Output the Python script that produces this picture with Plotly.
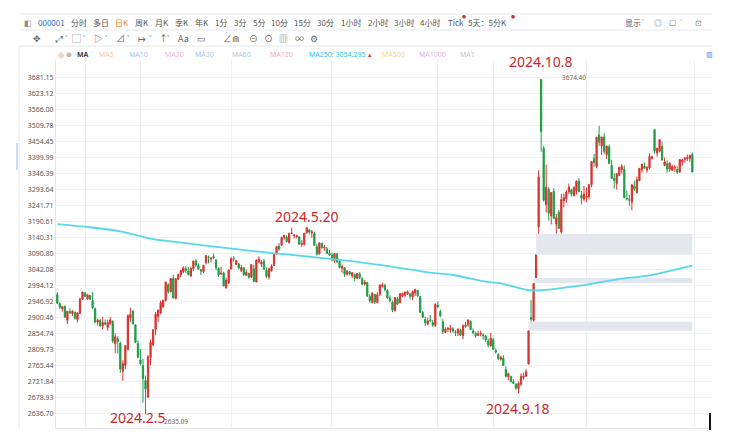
import numpy as np
import plotly.graph_objects as go

# trading sessions shown (Shanghai Composite, daily)
sessions = {
    "2023-12": [15, 18, 19, 20, 21, 22, 25, 26, 27, 28, 29],
    "2024-01": [2, 3, 4, 5, 8, 9, 10, 11, 12, 15, 16, 17, 18, 19, 22, 23, 24, 25, 26, 29, 30, 31],
    "2024-02": [1, 2, 5, 6, 7, 8, 19, 20, 21, 22, 23, 26, 27, 28, 29],
    "2024-03": [1, 4, 5, 6, 7, 8, 11, 12, 13, 14, 15, 18, 19, 20, 21, 22, 25, 26, 27, 28, 29],
    "2024-04": [1, 2, 3, 8, 9, 10, 11, 12, 15, 16, 17, 18, 19, 22, 23, 24, 25, 26, 29, 30],
    "2024-05": [6, 7, 8, 9, 10, 13, 14, 15, 16, 17, 20, 21, 22, 23, 24, 27, 28, 29, 30, 31],
    "2024-06": [3, 4, 5, 6, 7, 11, 12, 13, 14, 17, 18, 19, 20, 21, 24, 25, 26, 27, 28],
    "2024-07": [1, 2, 3, 4, 5, 8, 9, 10, 11, 12, 15, 16, 17, 18, 19, 22, 23, 24, 25, 26, 29, 30, 31],
    "2024-08": [1, 2, 5, 6, 7, 8, 9, 12, 13, 14, 15, 16, 19, 20, 21, 22, 23, 26, 27, 28, 29, 30],
    "2024-09": [2, 3, 4, 5, 6, 9, 10, 11, 12, 13, 18, 19, 20, 23, 24, 25, 26, 27, 30],
    "2024-10": [8, 9, 10, 11, 14, 15, 16, 17, 18, 21, 22, 23, 24, 25, 28, 29, 30, 31],
    "2024-11": [1, 4, 5, 6, 7, 8, 11, 12, 13, 14, 15, 18, 19, 20, 21, 22, 25, 26, 27, 28, 29],
    "2024-12": [2, 3, 4, 5, 6, 9, 10, 11, 12, 13, 16, 17, 18, 19, 20, 23, 24, 25, 26, 27, 30, 31],
}
dates = [f"{m}-{d:02d}" for m, days in sessions.items() for d in days]

opens = [
    2968, 2941, 2926, 2933, 2893, 2919, 2912, 2917, 2895, 2913, 2954,
    2972, 2955, 2965, 2950, 2926, 2888, 2892, 2877, 2886, 2872, 2883, 2891, 2826, 2840, 2828, 2750, 2766, 2810, 2900, 2919, 2880, 2827,
    2781, 2765, 2725, 2680, 2788, 2823, 2866, 2904, 2914, 2932, 2950, 2997, 2976, 3016, 2956,
    3013, 3026, 3036, 3045, 3038, 3023, 3045, 3068, 3055, 3042, 3036, 3063, 3080, 3074, 3082, 3071, 3046, 3029, 3032, 2988, 3003,
    3044, 3075, 3058, 3059, 3040, 3048, 3025, 3031, 3020, 3045, 3005, 3066, 3059, 3068, 3040, 3020, 3039, 3055, 3090, 3114,
    3117, 3141, 3142, 3125, 3154, 3146, 3144, 3143, 3119, 3120, 3156, 3165, 3155, 3154, 3112, 3090, 3122, 3108, 3105, 3092,
    3087, 3068, 3090, 3067, 3046, 3048, 3028, 3036, 3024, 3028, 3017, 3029, 3015, 2999, 3003, 2962, 2944, 2968, 2944,
    2969, 2992, 2995, 2980, 2958, 2945, 2921, 2956, 2944, 2963, 2966, 2970, 2970, 2960, 2972, 2980, 2962, 2915, 2895, 2882, 2894, 2886, 2878,
    2937, 2918, 2889, 2858, 2867, 2866, 2869, 2860, 2856, 2865, 2849, 2875, 2880, 2890, 2862, 2856, 2850, 2854, 2852, 2848, 2834, 2820,
    2838, 2807, 2796, 2783, 2786, 2755, 2735, 2736, 2722, 2715, 2703, 2715, 2733, 2737, 2770, 2901, 2893, 3017, 3174,
    3674.40, 3433, 3245, 3295, 3209, 3288, 3183, 3221, 3158, 3257, 3264, 3287, 3293, 3274, 3290, 3322, 3276, 3263,
    3268, 3270, 3310, 3397, 3370, 3478, 3440, 3471, 3410, 3437, 3374, 3331, 3314, 3341, 3360, 3361, 3265, 3261, 3253, 3306, 3284,
    3323, 3359, 3371, 3358, 3365, 3398, 3496, 3416, 3422, 3438, 3374, 3380, 3361, 3358, 3366, 3360, 3352, 3386, 3394, 3397, 3397, 3411,
]
highs = [
    2975, 2945, 2934, 2936, 2920, 2928, 2922, 2917, 2915, 2959, 2976,
    2976, 2970, 2966, 2975, 2930, 2898, 2898, 2903, 2895, 2895, 2903, 2891, 2856, 2848, 2832, 2780, 2822, 2910, 2929, 2922, 2880, 2836,
    2812, 2784, 2738, 2795, 2838, 2866, 2917, 2923, 2950, 2952, 3006, 3001, 3016, 3027, 3016,
    3030, 3041, 3052, 3053, 3050, 3051, 3069, 3074, 3061, 3044, 3057, 3085, 3085, 3080, 3091, 3074, 3049, 3051, 3036, 3018, 3043,
    3078, 3084, 3072, 3063, 3057, 3050, 3042, 3033, 3058, 3057, 3072, 3083, 3072, 3075, 3049, 3048, 3058, 3094, 3114, 3123,
    3144, 3149, 3147, 3155, 3172, 3152, 3150, 3145, 3133, 3155, 3174.27, 3167, 3164, 3159, 3121, 3125, 3126, 3118, 3112, 3102,
    3094, 3093, 3093, 3073, 3058, 3050, 3041, 3038, 3035, 3030, 3031, 3035, 3019, 3011, 3006, 2969, 2973, 2970, 2975,
    2999, 3003, 3000, 2984, 2965, 2950, 2960, 2961, 2972, 2973, 2978, 2980, 2971, 2980, 2985, 2981, 2963, 2920, 2903, 2900, 2908, 2894, 2942,
    2947, 2923, 2896, 2873, 2874, 2880, 2873, 2865, 2870, 2869, 2881, 2889, 2895, 2893, 2870, 2860, 2863, 2863, 2855, 2852, 2840, 2857,
    2843, 2814, 2800, 2793, 2795, 2764, 2746, 2738, 2729, 2717, 2722, 2744, 2746, 2756, 2863, 2952, 3001, 3087.6, 3358,
    3674.40, 3440, 3377, 3302, 3285, 3299, 3215, 3228, 3280, 3281, 3292, 3314, 3297, 3306, 3323, 3331, 3290, 3306,
    3301, 3312, 3387, 3413, 3471, 3509.4, 3471, 3484, 3441, 3445, 3393, 3348, 3348, 3368, 3379, 3374, 3291, 3276, 3310, 3323, 3337,
    3364, 3379, 3384, 3369, 3415, 3406, 3498, 3432, 3462, 3455, 3400, 3391, 3384, 3377, 3375, 3371, 3394, 3397, 3402, 3411, 3411, 3418,
]
lows = [
    2940, 2925, 2918, 2900, 2882, 2911, 2905, 2895, 2887, 2911, 2952,
    2961, 2952, 2952, 2926, 2885, 2877, 2873, 2867, 2878, 2863, 2880, 2828, 2800, 2799, 2745, 2724, 2756, 2808, 2888, 2880, 2829, 2786,
    2766, 2666, 2635.09, 2680, 2767, 2820, 2850, 2888, 2910, 2928, 2948, 2970, 2974, 2956, 2954,
    3011, 3019, 3031, 3032, 3025, 3021, 3038, 3050, 3042, 3026, 3032, 3058, 3061, 3065, 3074, 3040, 3020, 3027, 2992, 2985, 2999,
    3043, 3067, 3057, 3043, 3035, 3022, 3024, 3015, 3017, 3005, 3005, 3062, 3050, 3041, 3017, 3012, 3036, 3053, 3087, 3100,
    3115, 3135, 3126, 3122, 3152, 3138, 3138, 3118, 3111, 3115, 3152, 3150, 3140, 3115, 3085, 3088, 3106, 3100, 3090, 3084,
    3067, 3063, 3063, 3046, 3033, 3020, 3024, 3025, 3016, 3007, 3013, 3014, 2996, 2994, 2962, 2944, 2942, 2940, 2943,
    2963, 2989, 2977, 2955, 2945, 2916, 2918, 2937, 2942, 2960, 2960, 2966, 2954, 2951, 2963, 2961, 2915, 2900, 2877, 2879, 2887, 2873, 2874,
    2928, 2903, 2854, 2856, 2859, 2857, 2857, 2848, 2848, 2848, 2839, 2872, 2874, 2865, 2855, 2843, 2848, 2847, 2838, 2831, 2816, 2819,
    2808, 2799, 2780, 2779, 2765, 2733, 2725, 2720, 2715, 2700, 2689.70, 2710, 2727, 2734, 2769, 2889, 2889, 3017, 3152,
    3420, 3255, 3220, 3194, 3182, 3199, 3153, 3168, 3152.5, 3236, 3251, 3279, 3271, 3272, 3278, 3286, 3246, 3256,
    3253, 3262, 3302, 3369, 3364, 3440, 3409, 3412, 3396, 3379, 3330, 3297, 3294, 3338, 3347, 3266, 3258, 3241, 3227, 3290, 3281,
    3323, 3350, 3362, 3350, 3360, 3393, 3413, 3403, 3418, 3390, 3371, 3349, 3353, 3355, 3353, 3345, 3349, 3372, 3383, 3388, 3386, 3352,
]
closes = [
    2942.56, 2930.80, 2932.39, 2902.11, 2918.72, 2914.78, 2918.81, 2898.87, 2914.61, 2954.70, 2974.93,
    2962.28, 2967.25, 2954.35, 2929.18, 2887.54, 2893.25, 2877.70, 2886.65, 2881.98, 2886.18, 2893.99, 2833.62, 2845.78, 2832.28,
    2756.34, 2770.74, 2820.77, 2906.11, 2910.22, 2883.36, 2830.53, 2788.55,
    2770.74, 2730.15, 2702.19, 2789.49, 2829.70, 2865.90, 2910.54, 2922.73, 2944.02, 2950.96, 3004.88, 2977.02, 3015.48, 2957.85, 3015.17,
    3027.02, 3039.31, 3047.79, 3039.93, 3027.40, 3046.02, 3068.46, 3055.94, 3043.83, 3038.23, 3054.64, 3084.93, 3079.69, 3077.11,
    3077.38, 3048.03, 3026.31, 3031.48, 2993.14, 3010.66, 3041.17,
    3077.38, 3074.96, 3069.30, 3047.05, 3048.54, 3027.34, 3034.25, 3019.47, 3057.38, 3007.07, 3071.38, 3074.23, 3065.26, 3044.60,
    3021.98, 3044.82, 3052.90, 3088.64, 3113.04, 3104.82,
    3140.72, 3147.74, 3128.48, 3154.32, 3154.55, 3148.02, 3145.77, 3119.90, 3122.40, 3154.03, 3171.15, 3157.97, 3158.54, 3116.39,
    3088.87, 3124.04, 3109.57, 3111.02, 3091.68, 3086.81,
    3078.49, 3091.20, 3065.40, 3048.79, 3051.28, 3028.05, 3037.47, 3028.92, 3032.63, 3015.89, 3030.25, 3018.05, 2998.14, 3004.96,
    2963.10, 2950.00, 2972.53, 2945.85, 2967.40,
    2994.73, 2997.01, 2982.38, 2957.57, 2949.93, 2922.45, 2959.37, 2939.36, 2970.39, 2971.30, 2974.01, 2976.30, 2962.85, 2977.13,
    2982.31, 2964.22, 2915.37, 2901.95, 2886.74, 2890.90, 2891.85, 2879.30, 2938.75,
    2932.39, 2905.34, 2860.70, 2867.28, 2869.90, 2869.83, 2862.19, 2858.20, 2867.95, 2850.65, 2877.36, 2879.43, 2893.67, 2866.66,
    2856.58, 2848.77, 2854.37, 2855.52, 2848.73, 2837.43, 2823.11, 2842.21,
    2811.04, 2802.98, 2784.28, 2788.31, 2765.81, 2736.49, 2744.19, 2721.80, 2717.12, 2704.09, 2717.28, 2736.02, 2736.81, 2748.92,
    2863.13, 2896.31, 3000.95, 3087.53, 3336.50,
    3489.78, 3258.86, 3301.93, 3217.74, 3284.32, 3201.29, 3202.95, 3169.38, 3261.56, 3268.11, 3285.87, 3302.80, 3280.26, 3299.70,
    3322.20, 3286.41, 3266.24, 3279.82,
    3272.01, 3310.21, 3386.99, 3383.81, 3470.07, 3452.30, 3470.66, 3421.97, 3439.28, 3379.84, 3330.73, 3323.85, 3346.01, 3367.99,
    3370.40, 3267.19, 3263.76, 3259.76, 3309.78, 3295.70, 3326.46,
    3363.98, 3378.81, 3364.65, 3368.86, 3404.08, 3402.53, 3422.66, 3432.49, 3461.50, 3391.88, 3386.33, 3361.49, 3382.21, 3370.03,
    3368.07, 3351.26, 3393.53, 3393.35, 3398.08, 3400.14, 3407.33, 3351.76,
]

# MA250
ma_dates = ["2023-12-15", "2024-01-04", "2024-01-22", "2024-02-07", "2024-03-05", "2024-03-22", "2024-04-12",
            "2024-04-26", "2024-05-15", "2024-06-03", "2024-06-18", "2024-07-05", "2024-07-29", "2024-08-09",
            "2024-08-29", "2024-09-05", "2024-09-25", "2024-10-31", "2024-11-19", "2024-12-06", "2024-12-31"]
ma_vals = [3183, 3173, 3160, 3137, 3124, 3112, 3100, 3092, 3085, 3074, 3066, 3052, 3033, 3026,
           3005, 3001, 2980, 2996, 3013, 3025, 3054.295]

# open gaps: candle before the gap
gap_dates = ["2024-09-24", "2024-09-26", "2024-09-27"]

# y axis labels (log scale)
y_ticks = [3681.15, 3623.12, 3566.00, 3509.78, 3454.45, 3399.99, 3346.39, 3293.64, 3241.71, 3190.61, 3140.31,
           3090.80, 3042.08, 2994.12, 2946.92, 2900.46, 2854.74, 2809.73, 2765.44, 2721.84, 2678.93, 2636.70]
# vertical grid at these sessions
grid_dates = ["2024-01-02", "2024-02-01", "2024-04-01", "2024-06-03", "2024-08-01", "2024-09-02", "2024-11-01"]

# marked extremes: (date, price)
marks = [("2024-02-05", 2635.09), ("2024-05-20", 3174.27), ("2024-09-18", 2689.70), ("2024-10-08", 3674.40)]

RED = "#d8332e"
GREEN = "#1f9d45"
GRID = "#edf0f4"
TXT = "#555555"
CJK = "Noto Sans CJK SC, Noto Sans, sans-serif"
LAT = "Noto Sans, sans-serif"

n = len(dates)
idx = np.arange(n)

fig = go.Figure()

for gd in gap_dates:
    i = dates.index(gd)
    lo, hi = highs[i], lows[i + 1]
    fig.add_trace(go.Scatter(x=[i, n - 1, n - 1, i, i], y=[lo, lo, hi, hi, lo], mode="lines",
                             fill="toself", fillcolor="#e4e7ed", line=dict(width=0),
                             hoverinfo="skip", showlegend=False))

fig.add_trace(go.Candlestick(x=idx, open=opens, high=highs, low=lows, close=closes, hovertext=dates,
                             increasing=dict(line=dict(color=RED, width=1), fillcolor=RED),
                             decreasing=dict(line=dict(color=GREEN, width=1), fillcolor=GREEN),
                             showlegend=False))

ma_x = [dates.index(d) for d in ma_dates]
fig.add_trace(go.Scatter(x=ma_x, y=ma_vals, mode="lines",
                         line=dict(color="#55d8ea", width=1.8, shape="spline", smoothing=0.8),
                         hoverinfo="skip", showlegend=False))

grid_pos = [dates.index(d) for d in grid_dates] + [n]  # last one = next session 2025-01-02

# date labels on the extremes
ann = []
lab_off = {"2024-02-05": (-7.5, -3.3), "2024-05-20": (0, 10), "2024-09-18": (0, -14.7), "2024-10-08": (0, 18)}
for d, p in marks:
    i = dates.index(d)
    y, m, dd = d.split("-")
    dx, dy = lab_off[d]
    ann.append(dict(x=i, y=np.log10(p), xref="x", yref="y", text=f"{int(y)}.{int(m)}.{int(dd)}",
                    showarrow=False, xshift=dx, yshift=dy, xanchor="center", yanchor="middle",
                    font=dict(family=LAT, size=14, color="#c8282b")))
for d, p, dx, dy in [("2024-02-05", 2635.09, 30, -6.8), ("2024-10-08", 3674.40, 33, 2.5)]:
    ann.append(dict(x=dates.index(d), y=np.log10(p), xref="x", yref="y", text=f"{p:.2f}",
                    showarrow=False, xshift=dx, yshift=dy, xanchor="center", yanchor="middle",
                    font=dict(family=LAT, size=6.5, color="#666")))


# page pixels -> paper coords (plot area spans x 56..712, y 60..428 on the page)
def px(x):
    return (x - 56) / 656


def py(y):
    return (428 - y) / 368


def tool(text, x, y, color=TXT, size=8, family=CJK):
    ann.append(dict(x=px(x), y=py(y), xref="paper", yref="paper", text=text, showarrow=False,
                    xanchor="left", yanchor="middle", font=dict(family=family, size=size, color=color)))


# toolbar row 1
row1 = [("◧", 22, "#8a8a8a"), ("000001", 36, "#2f6db5"), ("分时", 69, TXT), ("多日", 91, TXT), ("日K", 113, "#e8801e"),
        ("周K", 133, TXT), ("月K", 153, TXT), ("季K", 173, TXT), ("年K", 193, TXT), ("1分", 213, TXT), ("3分", 232, TXT),
        ("5分", 251, TXT), ("10分", 269, TXT), ("15分", 292, TXT), ("30分", 315, TXT), ("1小时", 339, TXT),
        ("2小时", 366, TXT), ("3小时", 392, TXT), ("4小时", 418, TXT), ("Tick", 446, TXT), ("5天：5分K", 466, TXT),
        ("˅", 507, "#999"), ("显示", 623, TXT), ("˅", 640, "#999"), ("◎", 652, "#888"), ("☐", 667, "#777"),
        ("˅", 678, "#999"), ("⊡", 693, "#888")]
for t, x, c in row1:
    tool(t, x, 22, c, 8)
for x in [462, 511]:
    tool("●", x - 2, 16.5, "#c0392b", 4)

# toolbar row 2 (drawing tools)
row2 = [("✥", 31), ("⤢", 53), ("˅", 63), ("▢", 70), ("˅", 81), ("▷", 92), ("˅", 103), ("⊿", 114), ("˅", 125),
        ("↦", 136), ("˅", 147), ("↑", 157), ("˅", 165), ("Aa", 176), ("▭", 195), ("∠", 221), ("⋒", 230),
        ("⊖", 247), ("⊙", 262), ("▥", 277), ("∞", 293), ("⚙", 308)]
for t, x in row2:
    tool(t, x, 38, "#666", 9)

# MA row
row3 = [("◎", 56, "#888"), ("⊗", 64, "#888"), ("<b>MA</b>", 75, "#444"), ("˅", 89, "#999"), ("MA5", 97, "#f5c597"),
        ("MA10", 127, "#a3c4ea"), ("MA20", 163, "#f0b0d6"), ("MA30", 193, "#a7c4e8"), ("MA60", 230, "#b9c7d9"),
        ("MA120", 268, "#f2a7c8"), (f"MA250: {ma_vals[-1]}", 307, "#26c3d8"), ("▴", 366, "#d63b3b"),
        ("MA500", 380, "#f4d58c"), ("MA1000", 417, "#d6b5e5"), ("MA1", 458, "#c4c4c4"), ("▥", 704, "#3b7dd8")]
for t, x, c in row3:
    tool(t, x, 54, c, 7, LAT)

shapes = []
for yy in [14, 30, 46]:
    shapes.append(dict(type="line", xref="paper", yref="paper", x0=px(20), x1=px(712), y0=py(yy), y1=py(yy),
                       line=dict(color="#e6e8eb", width=1)))
shapes.append(dict(type="line", xref="paper", yref="paper", x0=px(19), x1=px(19), y0=py(46), y1=py(430),
                   line=dict(color="#e6e8eb", width=1)))
shapes.append(dict(type="line", xref="paper", yref="paper", x0=px(17), x1=px(17), y0=py(143), y1=py(170),
                   line=dict(color="#cfdcec", width=2)))
shapes.append(dict(type="line", xref="paper", yref="paper", x0=px(710), x1=px(710), y0=py(413), y1=py(430),
                   line=dict(color="#111", width=2)))

# the html page body has an 8px margin, so the figure is 8px smaller than the window
fig.update_layout(
    width=728, height=435,
    margin=dict(l=48, r=24, t=52, b=15),
    paper_bgcolor="white", plot_bgcolor="white",
    showlegend=False, hovermode=False,
    font=dict(family=CJK, size=8, color=TXT),
    annotations=ann, shapes=shapes,
    xaxis=dict(range=[-0.52, 259.8], tickmode="array", tickvals=grid_pos, showticklabels=False, ticks="",
               showgrid=True, gridcolor=GRID, zeroline=False, showline=True, linecolor="#e3e6ea",
               rangeslider=dict(visible=False), fixedrange=True),
    yaxis=dict(type="log", range=[3.41487, 3.573618], tickmode="array", tickvals=y_ticks,
               ticktext=[f"{v:.2f}" for v in y_ticks], ticks="",
               tickfont=dict(family=LAT, size=7, color=TXT),
               showgrid=True, gridcolor=GRID, zeroline=False, showline=True, linecolor="#e3e6ea", fixedrange=True),
)

fig.write_html("out.html")
